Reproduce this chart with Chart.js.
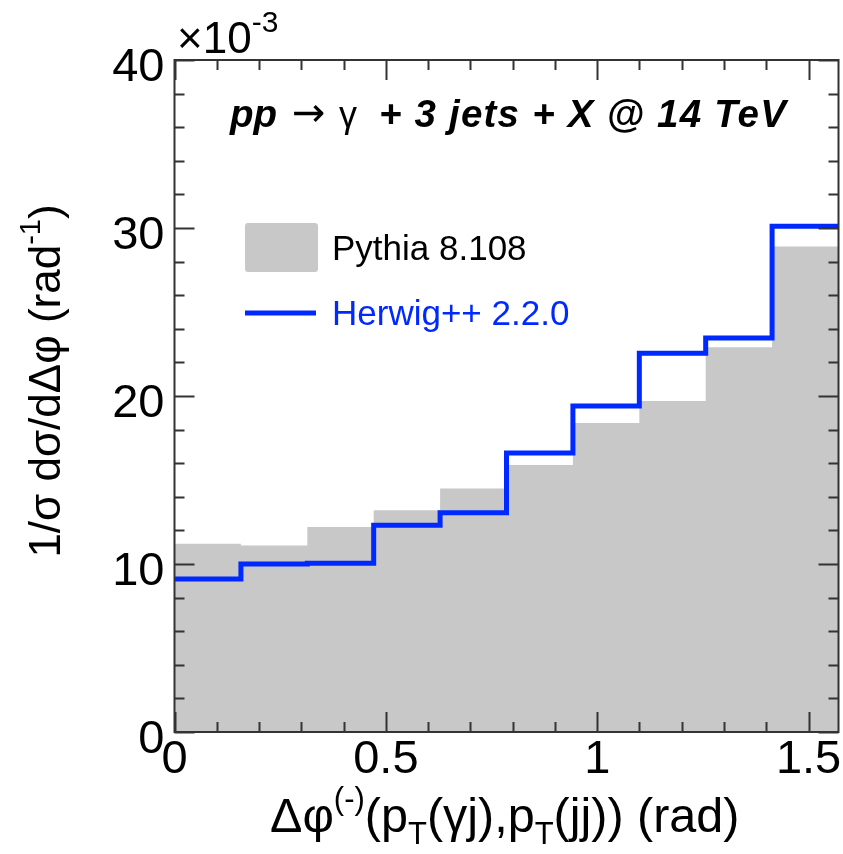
<!DOCTYPE html>
<html>
<head>
<meta charset="utf-8">
<script src="https://cdn.jsdelivr.net/npm/chart.js@4/dist/chart.umd.min.js"></script>
<style>
  html, body { margin: 0; padding: 0; background: #fff; }
  #wrap { width: 843px; height: 854px; }
</style>
</head>
<body>
<div id="wrap"><canvas id="chart" width="843" height="854"></canvas></div>
<script>
  // bin edges in rad, pi/20 wide
  const binEdges = [0, 0.1571, 0.3142, 0.4712, 0.6283, 0.7854, 0.9425, 1.0996, 1.2566, 1.4137, 1.5708];
  // 1/sigma dsigma/dDphi in units of 1e-3 rad^-1
  const pythia = [11.2, 11.1, 12.2, 13.2, 14.5, 15.9, 18.4, 19.7, 22.9, 28.9];
  const herwig = [9.1, 10.0, 10.05, 12.3, 13.05, 16.6, 19.4, 22.55, 23.45, 30.1];
  const xTicks = [0, 0.5, 1, 1.5];
  const yTicks = [0, 10, 20, 30, 40];

  const FONT = "'Liberation Sans', Arial, Helvetica, sans-serif";
  const GRAY = "#c8c8c8";
  const BLUE = "#0029ff";

  function toSteps(vals) {
    const pts = vals.map((v, i) => ({ x: binEdges[i], y: v }));
    pts.push({ x: binEdges[vals.length], y: vals[vals.length - 1] });
    return pts;
  }

  function fontOf(r) {
    return (r.style || "") + " " + r.size + "px " + (r.family || FONT);
  }

  function runsWidth(ctx, runs) {
    let w = 0;
    for (const r of runs) {
      ctx.font = fontOf(r);
      w += ctx.measureText(r.t).width;
    }
    return w;
  }

  function drawRuns(ctx, runs, x, y) {
    let cx = x;
    for (const r of runs) {
      if (r.at !== undefined) cx = r.at;
      ctx.font = fontOf(r);
      ctx.letterSpacing = r.spacing || "0px";
      ctx.fillText(r.t, cx, y + (r.dy || 0));
      cx += ctx.measureText(r.t).width;
    }
    ctx.letterSpacing = "0px";
  }

  // ROOT style frame with inward ticks on all four sides
  const frameTicks = {
    id: "frameTicks",
    afterDatasetsDraw(chart) {
      const { ctx, chartArea: a, scales } = chart;
      const xs = scales.x, ys = scales.y;
      ctx.save();
      ctx.strokeStyle = "#333";
      ctx.lineWidth = 2;
      ctx.beginPath();
      for (let v = 0; v <= ys.max + 1e-9; v += 2) {
        const len = v % 10 === 0 ? 20 : 10;
        const py = Math.round(ys.getPixelForValue(v)) + 0.5;
        ctx.moveTo(a.left, py); ctx.lineTo(a.left + len, py);
        ctx.moveTo(a.right, py); ctx.lineTo(a.right - len, py);
      }
      for (let k = 0; k * 0.1 <= xs.max + 1e-9; k++) {
        const len = k % 5 === 0 ? 20 : 10;
        const px = Math.round(xs.getPixelForValue(k * 0.1)) + 0.5;
        ctx.moveTo(px, a.bottom); ctx.lineTo(px, a.bottom - len);
        ctx.moveTo(px, a.top); ctx.lineTo(px, a.top + len);
      }
      ctx.stroke();
      ctx.strokeRect(a.left, a.top, a.right - a.left, a.bottom - a.top);
      ctx.restore();
    }
  };

  // titles, multiplier and legend
  const annotations = {
    id: "annotations",
    afterDraw(chart) {
      const ctx = chart.ctx;
      const ds = chart.data.datasets;
      ctx.save();
      ctx.fillStyle = "#000";
      ctx.textBaseline = "alphabetic";
      ctx.textAlign = "left";

      // exponent
      drawRuns(ctx, [
        { t: "\u00d710", size: 44 },
        { t: "-3", size: 30, dy: -21 }
      ], 177, 53);

      // process label
      const bi = "italic bold";
      drawRuns(ctx, [
        { t: "pp", size: 38.5, style: bi, at: 230 },
        { t: "\u2192", size: 40, family: "'DejaVu Sans', sans-serif", at: 292, dy: -1 },
        { t: "\u03b3", size: 36, at: 339 },
        { t: "+ 3 jets + X @ 14 TeV", size: 38.5, style: bi, at: 379, spacing: "1.2px" }
      ], 230, 127);

      // y title, rotated
      const yRuns = [
        { t: "1/\u03c3 d\u03c3/d\u0394\u03c6 (rad", size: 44 },
        { t: "-1", size: 29, dy: -20 },
        { t: ")", size: 44 }
      ];
      ctx.save();
      ctx.translate(60, 381);
      ctx.rotate(-Math.PI / 2);
      drawRuns(ctx, yRuns, -runsWidth(ctx, yRuns) / 2, 0);
      ctx.restore();

      // x title
      drawRuns(ctx, [
        { t: "\u0394\u03c6", size: 48.5 },
        { t: "(-)", size: 31, dy: -23 },
        { t: "(p", size: 48.5 },
        { t: "T", size: 31, dy: 12 },
        { t: "(\u03b3j),p", size: 48.5 },
        { t: "T", size: 31, dy: 12 },
        { t: "(jj)) (rad)", size: 48.5 }
      ], 270, 832);

      // legend
      ctx.fillStyle = ds[0].backgroundColor;
      ctx.beginPath();
      ctx.roundRect(245, 223, 73, 49, 3);
      ctx.fill();
      ctx.fillStyle = "#000";
      drawRuns(ctx, [{ t: ds[0].label, size: 35 }], 332, 260);

      ctx.strokeStyle = ds[1].borderColor;
      ctx.lineWidth = 5;
      ctx.beginPath();
      ctx.moveTo(245, 313); ctx.lineTo(316, 313);
      ctx.stroke();
      ctx.fillStyle = ds[1].borderColor;
      drawRuns(ctx, [{ t: ds[1].label, size: 35 }], 332, 325);
      ctx.restore();
    }
  };

  const ctx = document.getElementById("chart").getContext("2d");
  new Chart(ctx, {
    type: "line",
    data: {
      datasets: [
        {
          label: "Pythia 8.108",
          data: toSteps(pythia),
          stepped: "before",
          fill: "origin",
          backgroundColor: GRAY,
          borderColor: GRAY,
          borderWidth: 0,
          pointRadius: 0,
          order: 2
        },
        {
          label: "Herwig++ 2.2.0",
          data: toSteps(herwig),
          stepped: "before",
          fill: false,
          borderColor: BLUE,
          borderWidth: 5,
          pointRadius: 0,
          order: 1
        }
      ]
    },
    options: {
      responsive: false,
      animation: false,
      layout: { padding: { top: 60, right: 4.5, left: 0, bottom: 0 } },
      plugins: { legend: { display: false }, tooltip: { enabled: false } },
      scales: {
        x: {
          type: "linear",
          min: 0,
          max: binEdges[binEdges.length - 1],
          afterBuildTicks: (s) => { s.ticks = xTicks.map((v) => ({ value: v })); },
          afterFit: (s) => { s.height = 122; },
          grid: { display: false, drawTicks: false },
          border: { display: false },
          ticks: {
            autoSkip: false,
            maxRotation: 0,
            padding: 0,
            color: "#000",
            font: { family: FONT, size: 47 },
            callback: (v) => String(v)
          }
        },
        y: {
          min: 0,
          max: 40,
          afterBuildTicks: (s) => { s.ticks = yTicks.map((v) => ({ value: v })); },
          afterFit: (s) => { s.width = 174.5; },
          grid: { display: false, drawTicks: false },
          border: { display: false },
          ticks: {
            padding: 10,
            labelOffset: 8,
            color: "#000",
            font: { family: FONT, size: 47 },
            callback: (v) => String(v)
          }
        }
      }
    },
    plugins: [frameTicks, annotations]
  });
</script>
</body>
</html>
